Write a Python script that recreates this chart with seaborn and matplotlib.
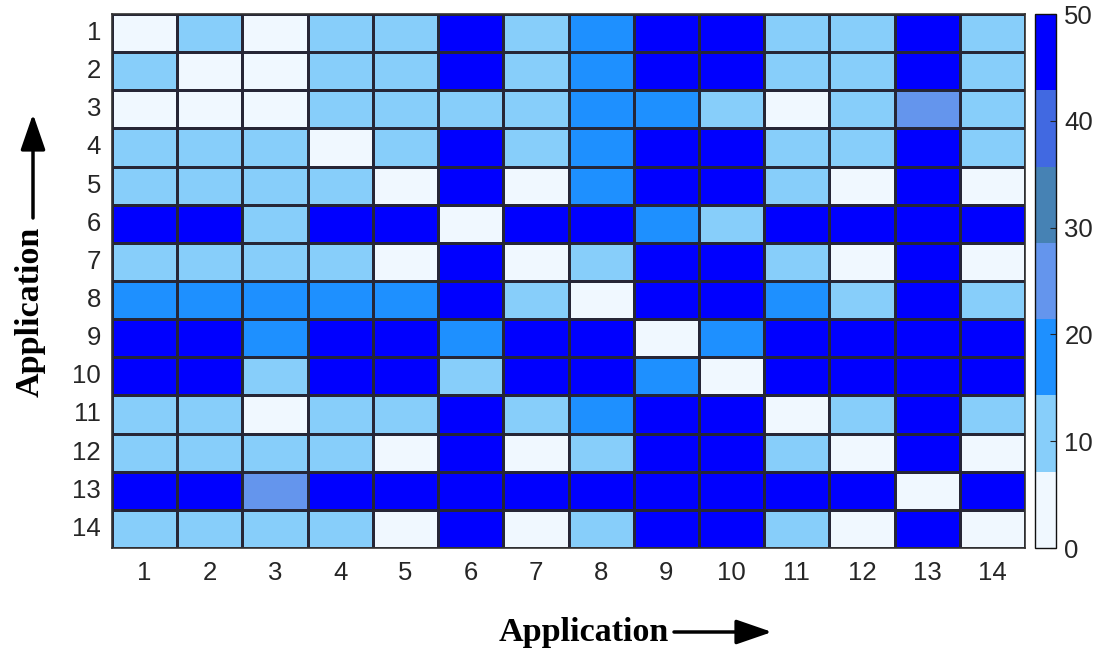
import numpy as np
import pandas as pd
import matplotlib
matplotlib.use("Agg")
import matplotlib.pyplot as plt
from matplotlib.colors import ListedColormap, BoundaryNorm
from matplotlib.patches import FancyArrowPatch
import seaborn as sns

apps = [str(i) for i in range(1, 15)]
W, L, D, C, B = 0, 10, 18, 25, 50
row01 = [W, L, W, L, L, B, L, D, B, B, L, L, B, L]
row02 = [L, W, W, L, L, B, L, D, B, B, L, L, B, L]
row03 = [W, W, W, L, L, L, L, D, D, L, W, L, C, L]
row04 = [L, L, L, W, L, B, L, D, B, B, L, L, B, L]
row05 = [L, L, L, L, W, B, W, D, B, B, L, W, B, W]
row06 = [B, B, L, B, B, W, B, B, D, L, B, B, B, B]
row07 = [L, L, L, L, W, B, W, L, B, B, L, W, B, W]
row08 = [D, D, D, D, D, B, L, W, B, B, D, L, B, L]
row09 = [B, B, D, B, B, D, B, B, W, D, B, B, B, B]
row10 = [B, B, L, B, B, L, B, B, D, W, B, B, B, B]
row11 = [L, L, W, L, L, B, L, D, B, B, W, L, B, L]
row12 = [L, L, L, L, W, B, W, L, B, B, L, W, B, W]
row13 = [B, B, C, B, B, B, B, B, B, B, B, B, W, B]
row14 = [L, L, L, L, W, B, W, L, B, B, L, W, B, W]
rows = [row01, row02, row03, row04, row05, row06, row07,
        row08, row09, row10, row11, row12, row13, row14]
cbar_ticks = [0, 10, 20, 30, 40, 50]

df = pd.DataFrame(rows, index=apps, columns=apps)

colors = ["#F0F8FF", "#87CEFA", "#1E90FF", "#6495ED", "#4682B4", "#4169E1", "#0000FF"]
cmap = ListedColormap(colors)
bounds = np.linspace(0, 50, 8)
norm = BoundaryNorm(bounds, cmap.N)

fig = plt.figure(figsize=(11.01, 6.51), dpi=100)
W_, H_ = 1101, 651
ax = fig.add_axes([112 / W_, 1 - 548 / H_, (1025 - 112) / W_, (548 - 14) / H_])
cax = fig.add_axes([1035 / W_, 1 - 548 / H_, 21 / W_, (548 - 14) / H_])

sns.heatmap(df, ax=ax, cmap=cmap, norm=norm, vmin=0, vmax=50,
            linewidths=0.75, linecolor="#262636", cbar=True, cbar_ax=cax,
            cbar_kws={"ticks": cbar_ticks})

for s in ax.spines.values():
    s.set_visible(True)
    s.set_color("#333333")
    s.set_linewidth(1.2)

FS = 18.5
ax.set_xticklabels(apps, rotation=0, color="#262626", fontfamily="Liberation Sans", fontsize=FS)
ax.set_yticklabels(apps, rotation=0, color="#262626", fontfamily="Liberation Sans", fontsize=FS)
ax.tick_params(axis="x", length=0, pad=9)
ax.tick_params(axis="y", length=0, pad=8)
ax.set_xlabel("")
ax.set_ylabel("")

cax.minorticks_off()
cax.tick_params(which="minor", length=0)
cax.tick_params(labelsize=FS, length=4, width=0.8, direction="in", color="#262626",
                labelcolor="#262626", pad=6)
for t in cax.get_yticklabels():
    t.set_fontfamily("Liberation Sans")
cbar = ax.collections[0].colorbar
cbar.outline.set_visible(True)
cbar.outline.set_edgecolor("#111111")
cbar.outline.set_linewidth(1.0)

lab = dict(family="Liberation Serif", weight="bold", size=24.5, color="black")
fig.text(584 / W_, 1 - 632 / H_, "Application", ha="center", va="center", **lab)
fig.text(30 / W_, 1 - 312 / H_, "Application", ha="center", va="center", rotation=90, **lab)

arrow = dict(arrowstyle="-|>,head_length=1.1,head_width=0.38", color="black", lw=2.5,
             shrinkA=0, shrinkB=0)
fig.add_artist(FancyArrowPatch((674 / W_, 1 - 632 / H_), (772 / W_, 1 - 632 / H_),
                               transform=fig.transFigure, mutation_scale=20, **arrow))
fig.add_artist(FancyArrowPatch((33 / W_, 1 - 218 / H_), (33 / W_, 1 - 114 / H_),
                               transform=fig.transFigure, mutation_scale=20, **arrow))

fig.savefig("out.png", dpi=100)
